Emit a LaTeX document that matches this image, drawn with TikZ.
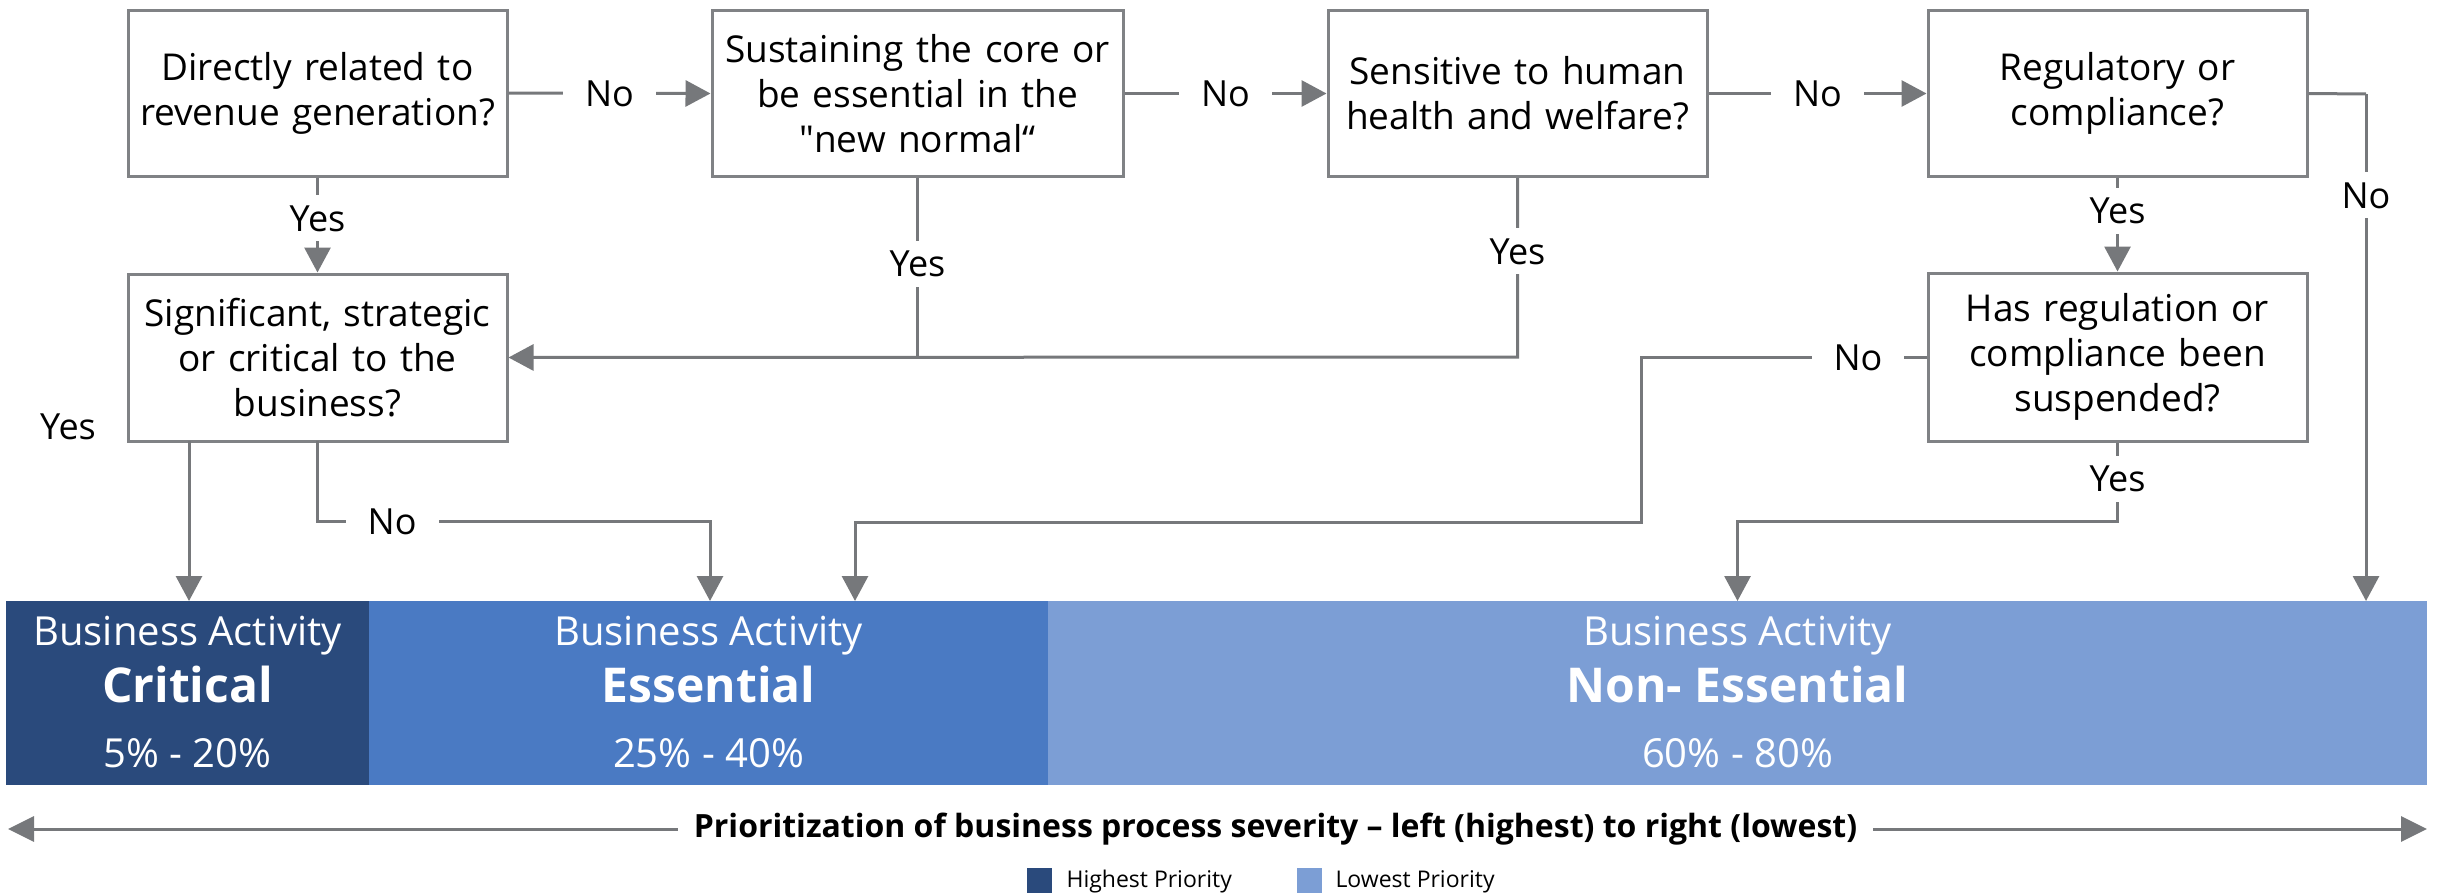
\documentclass[tikz,border=0pt]{standalone}
\usepackage{fontspec}
\setmainfont{Open Sans}
\newfontfamily\osq{Open Sans}
\usetikzlibrary{arrows.meta,calc}
\definecolor{lc}{HTML}{76787B}
\definecolor{bc}{HTML}{808285}
\definecolor{crit}{HTML}{2A4A7C}
\definecolor{ess}{HTML}{4A7AC3}
\definecolor{non}{HTML}{7C9ED5}
\begin{document}
\begin{tikzpicture}[x=1pt,y=-1pt,
  qbox/.style={draw=bc, line width=3pt, minimum height=166pt, inner sep=0pt,
    align=center, text width=#1, font=\fontsize{37}{45}\selectfont},
  lab/.style={fill=white, font=\fontsize{36}{40}\selectfont, text height=26pt,
    text depth=0pt, inner xsep=22pt, inner ysep=10pt},
  conn/.style={draw=lc, line width=3pt},
  arr/.style={conn, -{Triangle[length=25pt,width=26pt]}},
  block/.style={fill=#1, inner sep=0pt, minimum height=184pt, anchor=north west},
  btxt/.style={anchor=base, text=white, font=\fontsize{40}{42}\selectfont},
  bbold/.style={anchor=base, text=white, font=\fontsize{48}{50}\selectfont\bfseries},
  legsq/.style={fill=#1, inner sep=0pt, minimum size=25pt, anchor=north west},
  legtxt/.style={anchor=base west, font=\fontsize{23}{25}\selectfont}
]
\useasboundingbox (0,0) rectangle (2440,894);

% question boxes
\node[qbox=379pt] (b1) at (317.5,93) {Directly related to\\revenue generation?};
\node[qbox=411pt] (b2) at (917.5,93.5) {Sustaining the core or\\be essential in the\\{\osq"}new normal“};
\node[qbox=379pt] (b4) at (1517.5,93.5) {Sensitive to human\\health and welfare?};
\node[qbox=379pt] (b5) at (2117.5,93.5) {Regulatory or\\compliance?};
\node[qbox=379pt, minimum height=167pt] (b3) at (317.5,357.5) {Significant, strategic\\or critical to the\\business?};
\node[qbox=379pt, minimum height=168pt] (b6) at (2117.5,357) {Has regulation or\\compliance been\\suspended?};

% priority blocks
\node[block=crit, minimum width=363pt] (crit) at (6,601) {};
\node[block=ess, minimum width=679pt] (ess) at (369,601) {};
\node[block=non, minimum width=1379pt] (non) at (1048,601) {};

\node[btxt] (t1a) at (187.5,645) {Business Activity};
\node[bbold] (t1b) at (187.5,702) {Critical};
\node[btxt] (t1c) at (187.5,767) {5\% - 20\%};
\node[btxt] (t2a) at (708.5,645) {Business Activity};
\node[bbold] (t2b) at (708.5,702) {Essential};
\node[btxt] (t2c) at (708.5,767) {25\% - 40\%};
\node[btxt] (t3a) at (1737.5,645) {Business Activity};
\node[bbold] (t3b) at (1737.5,702) {Non- Essential};
\node[btxt] (t3c) at (1737.5,767) {60\% - 80\%};

% coordinates
\coordinate (j1) at (917.5,357);
\coordinate (j2) at (1517.5,357);
\coordinate (r1) at (2366,94);
\coordinate (r2) at (2366,601);
\coordinate (n1) at (1641,357);
\coordinate (n2) at (1641,522);
\coordinate (n3) at (855,522);
\coordinate (n4) at (855,601);
\coordinate (y1) at (2117.5,521);
\coordinate (y2) at (1737.5,521);
\coordinate (y3) at (1737.5,601);
\coordinate (s1) at (189,441);
\coordinate (s2) at (189,601);
\coordinate (s3) at (317.5,441);
\coordinate (s4) at (317.5,521);
\coordinate (s5) at (710,521);
\coordinate (s6) at (710,601);

% top row "No" arrows
\draw[arr] (b1.east) -- node[lab]{No} (b2.west);
\draw[arr] (b2.east) -- node[lab]{No} (b4.west);
\draw[arr] (b4.east) -- node[lab]{No} (b5.west);

% Yes arrows
\draw[arr] (b1.south) -- node[lab,pos=0.43]{Yes} (b3.north);
\draw[arr] (b5.south) -- node[lab,pos=0.35]{Yes} (b6.north);
\draw[conn] (b2.south) -- node[lab,pos=0.48]{Yes} (j1);
\draw[arr] (b4.south) -- node[lab,pos=0.41]{Yes} (j2) -- (b3.east);

% regulatory No to non-essential
\draw[conn] (b5.east) -- (r1);
\draw[arr] (r1) -- node[lab,pos=0.2]{No} (r2);

% suspended? No -> essential
\draw[arr] (b6.west) -- node[lab,pos=0.24]{No} (n1) -- (n2) -- (n3) -- (n4);
% suspended? Yes -> non-essential
\draw[arr] (b6.south) -- node[lab,pos=0.46]{Yes} (y1) -- (y2) -- (y3);

% significant? Yes -> critical ; No -> essential
\draw[arr] (s1) -- (s2);
\node[font=\fontsize{36}{40}\selectfont] (yesl) at (68,427) {Yes};
\draw[arr] (s3) -- (s4) -- node[lab,pos=0.19]{No} (s5) -- (s6);

% bottom scale arrow
\coordinate (la) at (8,829);
\coordinate (ra) at (2427,829);
\draw[conn, {Triangle[length=26pt,width=25pt]}-{Triangle[length=26pt,width=25pt]}]
  (la) -- node[pos=0.524, fill=white, inner xsep=16pt, font=\fontsize{32}{34}\selectfont\bfseries]
  {Prioritization of business process severity – left (highest) to right (lowest)} (ra);

% legend
\node[legsq=crit] (lg1) at (1027,868) {};
\node[legtxt] (lt1) at (1063,887) {Highest Priority};
\node[legsq=non] (lg2) at (1297,868) {};
\node[legtxt] (lt2) at (1332,887) {Lowest Priority};
\end{tikzpicture}
\end{document}
